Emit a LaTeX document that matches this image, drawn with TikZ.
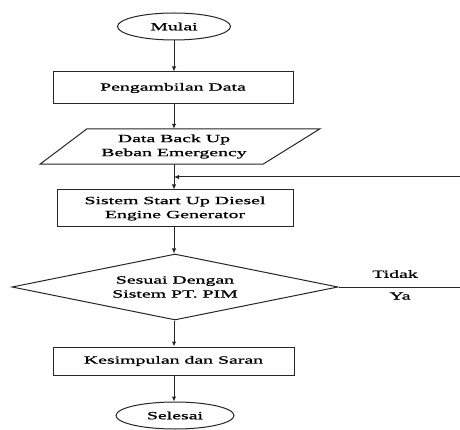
\documentclass[tikz,border=0pt]{standalone}
\usepackage{fontspec}
\setmainfont{Liberation Serif}[FakeStretch=1.8,FakeBold=1]
\usetikzlibrary{arrows.meta,shapes.geometric}
\tikzset{
  ln/.style={line width=1pt,draw=black!85},
  arr/.style={ln,-{Latex[length=5pt,width=4.5pt]}},
  boxnode/.style={ln,rectangle,inner sep=0pt,align=center,font=\fontsize{11}{14}\selectfont},
  term/.style={ln,ellipse,inner sep=0pt,align=center,font=\fontsize{11}{14}\selectfont},
  txt/.style={inner sep=0pt,align=center,font=\fontsize{11}{14}\selectfont},
  dec/.style={ln,diamond,inner sep=0pt,aspect=4.94,align=center,font=\fontsize{11}{14}\selectfont},
}
\begin{document}
\begin{tikzpicture}[x=1pt,y=-1pt]
\useasboundingbox[fill=white] (0,0) rectangle (460,430);
\node[term,minimum width=113pt,minimum height=27pt] (mulai) at (174,26.5) {Mulai};
\node[boxnode,minimum width=240pt,minimum height=32pt] (peng) at (173,88) {Pengambilan Data};
\node[txt,minimum width=223pt,minimum height=35pt] (data) at (174,146.5) {Data Back Up\\Beban Emergency};
\draw[ln] ([xshift=-87pt]data.north) -- ([xshift=146pt]data.north) -- ([xshift=89pt]data.south) -- ([xshift=-134pt]data.south) -- cycle;
\node[boxnode,minimum width=236pt,minimum height=37pt] (sistem) at (175,208.5) {Sistem Start Up Diesel\\Engine Generator};
\node[dec,minimum width=326pt,minimum height=66pt] (dia) at (175,287) {Sesuai Dengan\\Sistem PT. PIM};
\node[boxnode,minimum width=241pt,minimum height=28pt] (kes) at (173.5,361) {Kesimpulan dan Saran};
\node[term,minimum width=118pt,minimum height=27pt] (selesai) at (175,415.5) {Selesai};
\coordinate (fb) at (460,177);
\coordinate (out) at (460,287);
\node[txt] (tidak) at (395,274) {Tidak};
\node[txt] (ya) at (400,296) {Ya};
\draw[arr] (mulai.south) -- (mulai.south |- peng.north);
\draw[arr] (mulai.south |- peng.south) -- (mulai.south |- data.north);
\draw[arr] (mulai.south |- data.south) -- (mulai.south |- sistem.north);
\draw[arr] (fb) -- (fb -| mulai.south);
\draw[arr] (mulai.south |- sistem.south) -- (mulai.south |- dia.north);
\draw[arr] (mulai.south |- dia.south) -- (mulai.south |- kes.north);
\draw[arr] (mulai.south |- kes.south) -- (mulai.south |- selesai.north);
\draw[ln] (dia.east) -- (out);
\end{tikzpicture}
\end{document}
